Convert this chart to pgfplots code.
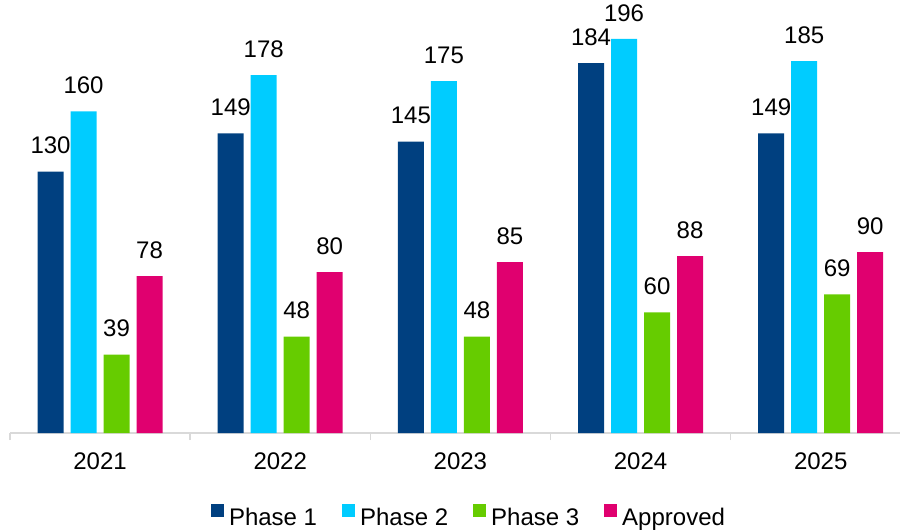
\documentclass[border=0pt]{standalone}
\usepackage{fontspec}
\setmainfont{Liberation Sans}
\usepackage{pgfplots}
\usepackage{pgfplotstable}
\pgfplotsset{compat=1.18}

\definecolor{phaseone}{HTML}{004080}
\definecolor{phasetwo}{HTML}{00CCFF}
\definecolor{phasethree}{HTML}{66CC00}
\definecolor{approved}{HTML}{E0006F}
\definecolor{axisgray}{HTML}{D9D9D9}

\pgfplotstableread{
x p1 p2 p3 ap
0 130 160 39 78
1 149 178 48 80
2 145 175 48 85
3 184 196 60 88
4 149 185 69 90
}\pipeline

\begin{document}
\begin{tikzpicture}[font=\fontsize{24bp}{29bp}\selectfont]
\begin{axis}[
  at={(0,0)}, anchor=south west,
  scale only axis, width=890bp, height=433bp,
  xmin=-0.5, xmax=4.44, ymin=0, ymax=215.4,
  clip=false,
  ybar=7bp, bar width=26bp,
  axis y line=none, axis x line*=bottom,
  x axis line style={draw=axisgray, line width=1.5bp},
  xtick={0,...,4}, xticklabels={2021,2022,2023,2024,2025},
  major tick length=0pt,
  xticklabel style={inner sep=0pt, yshift=-20bp},
  extra x ticks={-0.5,0.5,1.5,2.5,3.5},
  extra x tick labels={},
  extra x tick style={major tick length=7bp, tick align=outside,
    tick style={draw=axisgray, line width=1.5bp}},
  /pgf/number format/assume math mode=true,
  nodes near coords,
  every node near coord/.append style={inner sep=0pt, yshift=17.5bp, text=black},
  legend columns=4,
  legend style={draw=none, at={(0.5146,0)}, anchor=north, yshift=-71bp,
    inner sep=0pt, column sep=5bp, nodes={inner sep=0pt},
    /tikz/every even column/.append style={column sep=25bp}},
  legend image code/.code={\fill[#1] (0bp,0bp) rectangle (13bp,13bp);},
]
\addplot[fill=phaseone, draw=none] table[x=x, y=p1] {\pipeline};
\addlegendentry{Phase 1}
\addplot[fill=phasetwo, draw=none] table[x=x, y=p2] {\pipeline};
\addlegendentry{Phase 2}
\addplot[fill=phasethree, draw=none] table[x=x, y=p3] {\pipeline};
\addlegendentry{Phase 3}
\addplot[fill=approved, draw=none] table[x=x, y=ap] {\pipeline};
\addlegendentry{Approved}
\end{axis}
\path (-10bp,-99bp) rectangle (892bp,433bp);
\end{tikzpicture}
\end{document}
